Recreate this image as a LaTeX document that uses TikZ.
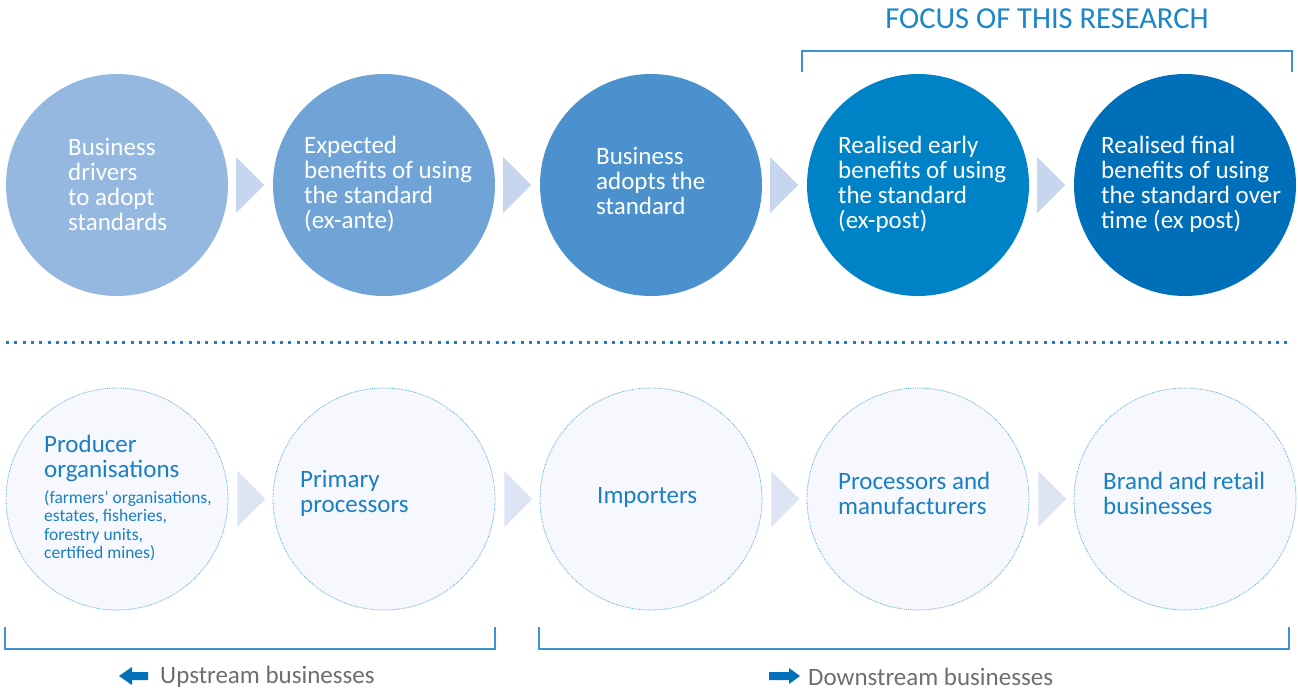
\documentclass[tikz,border=0pt]{standalone}
\usepackage{fontspec}
\setmainfont{Carlito}
\usetikzlibrary{calc}
\definecolor{cA}{HTML}{95B8E0}
\definecolor{cB}{HTML}{70A4D7}
\definecolor{cC}{HTML}{4A91CD}
\definecolor{cD}{HTML}{0083C6}
\definecolor{cE}{HTML}{006FB9}
\definecolor{tritop}{HTML}{C6D6EE}
\definecolor{tribot}{HTML}{DDE5F5}
\definecolor{bfill}{HTML}{F6F8FD}
\definecolor{bborder}{HTML}{5AA7DD}
\definecolor{btext}{HTML}{1A7FC3}
\definecolor{bracketc}{HTML}{3D92D2}
\definecolor{focusc}{HTML}{1C86C8}
\definecolor{grayt}{HTML}{6E6E6E}
\definecolor{arrowc}{HTML}{0070BA}
\definecolor{sepc}{HTML}{1E7FC4}
\begin{document}
\begin{tikzpicture}[x=1pt,y=-1pt,
  topcirc/.style={circle,minimum size=222pt,inner sep=0pt,draw=none},
  botcirc/.style={circle,minimum size=222pt,inner sep=0pt,fill=bfill,draw=bborder,densely dotted,line width=0.8pt},
  toptext/.style={anchor=west,align=left,inner sep=0pt,text=white,font=\fontsize{25}{25}\selectfont},
  bottext/.style={anchor=west,align=left,inner sep=0pt,text=btext,font=\fontsize{25}{25}\selectfont},
  smalltext/.style={anchor=west,align=left,inner sep=0pt,text=btext,font=\fontsize{17.5}{18.5}\selectfont},
  bracket/.style={draw=bracketc,line width=2pt},
  labeltext/.style={anchor=west,inner sep=0pt,text=grayt,font=\fontsize{25}{25}\selectfont},
  flowarrow/.style={fill=arrowc,draw=none}
]
\useasboundingbox (0,0) rectangle (1298,691);
\fill[white] (0,0) rectangle (1298,691);

% top circles
\node[topcirc,fill=cA] (c1) at (117,185) {};
\node[topcirc,fill=cB] (c2) at (384,185) {};
\node[topcirc,fill=cC] (c3) at (651,185) {};
\node[topcirc,fill=cD] (c4) at (918,185) {};
\node[topcirc,fill=cE] (c5) at (1185,185) {};

\node[toptext] (t1) at (68,184) {Business\\drivers\\to adopt\\standards};
\node[toptext] (t2) at (304,184) {Expected\\benefits of using\\the standard\\(ex-ante)};
\node[toptext] (t3) at (596,181) {Business\\adopts the\\standard};
\node[toptext] (t4) at (838,184) {Realised early\\benefits of using\\the standard\\(ex-post)};
\node[toptext] (t5) at (1101,184) {Realised final\\benefits of using\\the standard over\\time (ex post)};

% top chevrons
\foreach \a in {c1,c2,c3,c4}{
  \fill[tritop] ($(\a.east)+(8,-28)$) -- ++(28,28) -- ++(-28,28) -- cycle;
}

% focus bracket
\node[anchor=center,inner sep=0pt,text=focusc,font=\fontsize{30.5}{30.5}\selectfont] (focus) at (1047,19) {FOCUS OF THIS RESEARCH};
\draw[bracket] (802,72) -- (802,51) -- (1292,51) -- (1292,72);

% separator
\draw[sepc,line width=3pt,dash pattern=on 3pt off 5.3pt] (6,342) -- (1292,342);

% bottom circles
\node[botcirc] (d1) at (117,499) {};
\node[botcirc] (d2) at (384,499) {};
\node[botcirc] (d3) at (651,499) {};
\node[botcirc] (d4) at (918,499) {};
\node[botcirc] (d5) at (1185,499) {};

\node[bottext] (b1) at (44,458) {Producer\\organisations};
\node[smalltext] (b1s) at (44,526) {(farmers’ organisations,\\estates, fisheries,\\forestry units,\\certified mines)};
\node[bottext] (b2) at (300,493) {Primary\\processors};
\node[bottext] (b3) at (597,497) {Importers};
\node[bottext] (b4) at (838,493) {Processors and\\manufacturers};
\node[bottext] (b5) at (1103,493) {Brand and retail\\businesses};

% bottom chevrons
\foreach \a in {d1,d2,d3,d4}{
  \fill[tribot] ($(\a.east)+(9,-28)$) -- ++(28,28) -- ++(-28,28) -- cycle;
}

% bottom brackets
\draw[bracket] (5,627) -- (5,649) -- (495,649) -- (495,627);
\draw[bracket] (539,627) -- (539,649) -- (1289,649) -- (1289,627);

% labels
\node[labeltext] (up) at (160,677) {Upstream businesses};
\node[labeltext] (down) at (808,677) {Downstream businesses};
\coordinate (upa) at (119,676);
\coordinate (downa) at (800,676);
\fill[flowarrow] (upa) -- ++(13,-9) -- ++(0,5) -- ++(16,0) -- ++(0,8) -- ++(-16,0) -- ++(0,5) -- cycle;
\fill[flowarrow] (downa) -- ++(-11,-8) -- ++(0,4) -- ++(-20,0) -- ++(0,8) -- ++(20,0) -- ++(0,4) -- cycle;
\end{tikzpicture}
\end{document}
